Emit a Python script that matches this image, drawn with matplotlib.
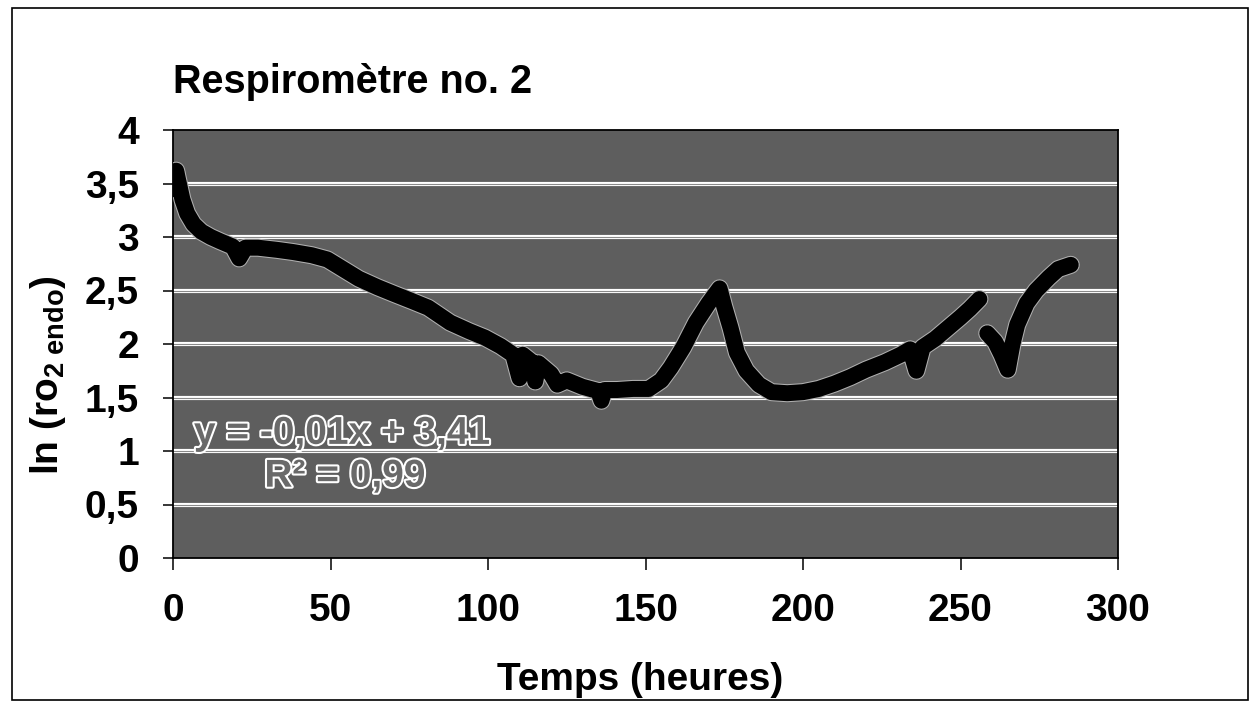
import numpy as np
import matplotlib
matplotlib.use("Agg")
import matplotlib.pyplot as plt
import matplotlib.patheffects as pe
from matplotlib.patches import Rectangle

plt.rcParams['font.family'] = ['Liberation Sans', 'DejaVu Sans']
plt.rcParams['font.weight'] = 'bold'
plt.rcParams['mathtext.fontset'] = 'custom'
plt.rcParams['mathtext.rm'] = 'Liberation Sans:bold'
plt.rcParams['mathtext.bf'] = 'Liberation Sans:bold'
plt.rcParams['mathtext.it'] = 'Liberation Sans:bold'

# ---- data ----
temps = [0.5, 1.0, 1.5, 3.0, 4.5, 6.5, 9, 12, 15, 19, 21, 23, 27, 33, 38, 44, 49,
         54, 59, 65, 70, 76, 81, 88, 94, 99, 104, 108, 110, 111, 114, 115, 116,
         120, 122, 125, 130, 135, 136, 137, 141, 146, 151, 155, 158, 162, 166,
         170, 173.5, 175, 177, 179, 182, 186, 190, 195, 200, 205, 210, 215, 220,
         226, 231, 234, 236, 238, 242, 246, 250, 253, 256,
         np.nan,
         258.5, 261, 263, 265, 266.5, 268, 271, 274, 278, 281, 285]
ln_ro2 = [3.45, 3.62, 3.55, 3.35, 3.22, 3.12, 3.05, 3.0, 2.96, 2.91, 2.80, 2.9, 2.9,
          2.88, 2.86, 2.83, 2.79, 2.7, 2.61, 2.53, 2.47, 2.4, 2.34, 2.2, 2.12, 2.06,
          1.98, 1.9, 1.68, 1.9, 1.83, 1.65, 1.82, 1.72, 1.62, 1.66, 1.6, 1.56, 1.47,
          1.57, 1.57, 1.58, 1.58, 1.66, 1.78, 1.97, 2.2, 2.38, 2.52, 2.35, 2.15,
          1.92, 1.75, 1.62, 1.55, 1.54, 1.55, 1.58, 1.63, 1.69, 1.76, 1.83, 1.9,
          1.95, 1.75, 1.97, 2.05, 2.15, 2.25, 2.33, 2.42,
          np.nan,
          2.1, 2.02, 1.9, 1.76, 2.0, 2.18, 2.38, 2.5, 2.62, 2.7, 2.74]

x_ticks = [0, 50, 100, 150, 200, 250, 300]
y_ticks = [0, 0.5, 1, 1.5, 2, 2.5, 3, 3.5, 4]
y_ticklabels = ['0', '0,5', '1', '1,5', '2', '2,5', '3', '3,5', '4']

title = 'Respiromètre no. 2'
xlabel = 'Temps (heures)'
ylabel = r'ln (ro$_{\mathrm{2\ endo}}$)'
eq_line1 = 'y = -0,01x + 3,41'
eq_line2 = 'R² = 0,99'

# ---- figure ----
W, H = 1255, 708
fig = plt.figure(figsize=(W / 100, H / 100), dpi=100)
fig.patch.set_facecolor('white')

# outer border
fig.patches.append(Rectangle((12 / W, 8 / H), (1248 - 12) / W, (700 - 8) / H,
                             transform=fig.transFigure, fill=False,
                             edgecolor='black', linewidth=1.2))

ax = fig.add_axes([173 / W, 1 - 558 / H, (1118 - 173) / W, (558 - 130) / H])
ax.set_facecolor('#5e5e5e')

for yv in y_ticks[1:-1]:
    ax.axhline(yv, color='white', linewidth=3.0, zorder=1)
    ax.axhline(yv, color='#8a8a8a', linewidth=0.8, zorder=1)

ax.plot(temps, ln_ro2, color='black', linewidth=11.5, solid_capstyle='round',
        solid_joinstyle='round', zorder=3,
        path_effects=[pe.Stroke(linewidth=13, foreground='#b0b0b0'), pe.Normal()])

ax.set_xlim(0, 300)
ax.set_ylim(0, 4)
ax.set_xticks(x_ticks)
ax.set_yticks(y_ticks)
ax.set_yticklabels(y_ticklabels)
ax.tick_params(axis='y', direction='out', length=7.5, width=1.1, pad=17,
               labelsize=28)
ax.tick_params(axis='x', direction='out', length=8.5, width=1.1, pad=17,
               labelsize=28)
for lab in ax.get_xticklabels() + ax.get_yticklabels():
    lab.set_fontweight('bold')
for sp in ax.spines.values():
    sp.set_linewidth(1.3)
    sp.set_color('black')

# regression annotation
txt_effects = [pe.Stroke(linewidth=3, foreground='white'), pe.Normal()]
ax.text(53.7, 1.16, eq_line1, ha='center', va='center', fontsize=28,
        fontweight='bold', color='#6a6a6a', path_effects=txt_effects, zorder=4)
ax.text(54.6, 0.76, eq_line2, ha='center', va='center', fontsize=28,
        fontweight='bold', color='#6a6a6a', path_effects=txt_effects, zorder=4)

# title and axis labels
fig.text(173 / W, 1 - 93 / H, title, ha='left', va='baseline', fontsize=28.5,
         fontweight='bold')
fig.text(640 / W, 1 - 690 / H, xlabel, ha='center', va='baseline', fontsize=28,
         fontweight='bold')
fig.text(48 / W, 1 - 375 / H, ylabel, ha='center', va='center', rotation=90,
         fontsize=28, fontweight='bold')

fig.savefig('out.png', dpi=100, facecolor='white')
